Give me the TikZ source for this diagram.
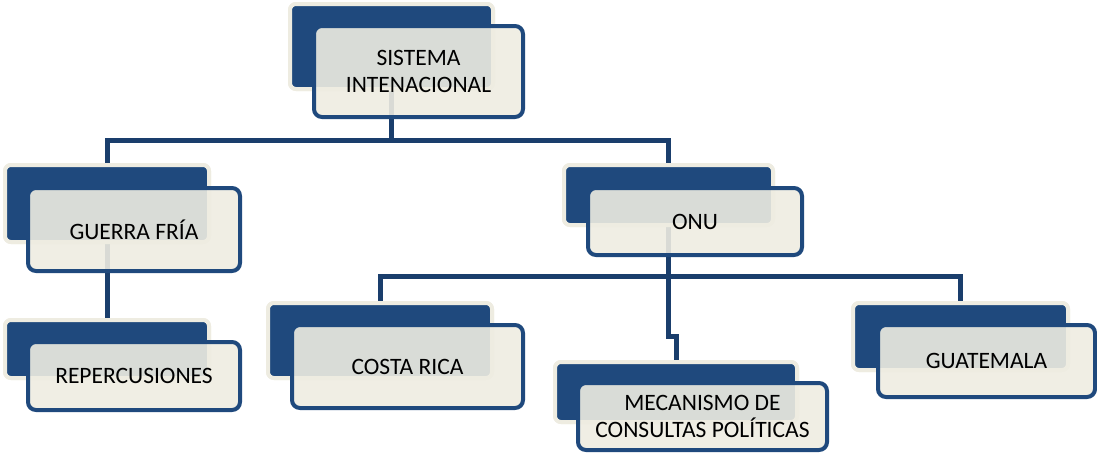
\documentclass[tikz,border=0pt]{standalone}
\usepackage{fontspec}
\setmainfont{Carlito}
\definecolor{navy}{HTML}{1F497D}
\definecolor{cream}{HTML}{EEECE1}
\definecolor{connc}{HTML}{1A3E6C}
\definecolor{txt}{HTML}{000000}
\tikzset{
  backbox/.style={draw=cream, fill=navy, line width=4pt, rounded corners=6pt,
    inner sep=0pt, minimum width=#1},
  frontbox/.style={draw=navy, fill=cream, fill opacity=0.9, draw opacity=1,
    text opacity=1, line width=4pt, rounded corners=8pt, inner sep=0pt,
    minimum width=#1, align=center, text=txt,
    font=\fontsize{23.5}{27.5}\selectfont},
  conn/.style={draw=connc, line width=5pt}
}
\begin{document}
\begin{tikzpicture}[x=1pt,y=-1pt]
\useasboundingbox (0,0) rectangle (1097,455);
% coordinates for connector rails
\coordinate (h1) at (0,140);
\coordinate (h2) at (0,276);
\coordinate (jog) at (0,336);
% back boxes (positions only for anchors first)
\path
  node[backbox=203pt, minimum height=85pt] (sback) at (391.5,46.5) {}
  node[backbox=204pt, minimum height=77pt] (gback) at (107,203.5) {}
  node[backbox=204pt, minimum height=58pt] (rback) at (107,349) {}
  node[backbox=209pt, minimum height=60pt] (oback) at (668.5,195) {}
  node[backbox=224pt, minimum height=75pt] (cback) at (380,340.5) {}
  node[backbox=242pt, minimum height=60pt] (mback) at (676,392) {}
  node[backbox=215pt, minimum height=67pt] (tback) at (960.5,336.5) {};
% connectors
\draw[conn] (sback.south) -- (sback.south |- h1);
\draw[conn] (gback.north) -- (gback.north |- h1) -- (oback.north |- h1) -- (oback.north);
\draw[conn] (gback.south) -- (rback.north);
\draw[conn] (oback.south) -- (oback.south |- jog) -- (mback.north |- jog) -- (mback.north);
\draw[conn] (cback.north) -- (cback.north |- h2) -- (tback.north |- h2) -- (tback.north);
% redraw back boxes over connector ends
\path
  node[backbox=203pt, minimum height=85pt] at (sback) {}
  node[backbox=204pt, minimum height=77pt] at (gback) {}
  node[backbox=204pt, minimum height=58pt] at (rback) {}
  node[backbox=209pt, minimum height=60pt] at (oback) {}
  node[backbox=224pt, minimum height=75pt] at (cback) {}
  node[backbox=242pt, minimum height=60pt] at (mback) {}
  node[backbox=215pt, minimum height=67pt] at (tback) {};
% front boxes
\node[frontbox=209pt, minimum height=91pt] (sfront) at (418.5,71.5) {SISTEMA\\INTENACIONAL};
\node[frontbox=212pt, minimum height=83pt] (gfront) at (134,229.5) {GUERRA FRÍA};
\node[frontbox=212pt, minimum height=68pt] (rfront) at (134,376) {REPERCUSIONES};
\node[frontbox=214pt, minimum height=67pt] (ofront) at (695,221.5) {ONU};
\node[frontbox=231pt, minimum height=83pt] (cfront) at (407.5,366.5) {COSTA RICA};
\node[frontbox=249pt, minimum height=67pt] (mfront) at (702.5,416.5) {MECANISMO DE\\CONSULTAS POLÍTICAS};
\node[frontbox=217pt, minimum height=72pt] (tfront) at (986.5,361) {GUATEMALA};
\end{tikzpicture}
\end{document}
